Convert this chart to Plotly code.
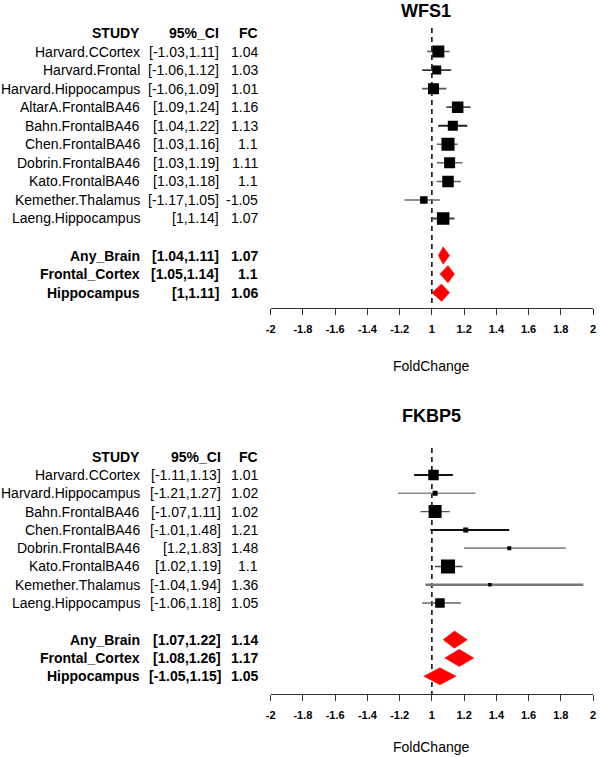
import plotly.graph_objects as go

W, H = 600, 757

# ---------------- data ----------------
wfs1_studies = ["Harvard.CCortex", "Harvard.Frontal", "Harvard.Hippocampus", "AltarA.FrontalBA46",
                "Bahn.FrontalBA46", "Chen.FrontalBA46", "Dobrin.FrontalBA46", "Kato.FrontalBA46",
                "Kemether.Thalamus", "Laeng.Hippocampus"]
wfs1_lo = [-1.03, -1.06, -1.06, 1.09, 1.04, 1.03, 1.03, 1.03, -1.17, 1]
wfs1_hi = [1.11, 1.12, 1.09, 1.24, 1.22, 1.16, 1.19, 1.18, 1.05, 1.14]
wfs1_fc = [1.04, 1.03, 1.01, 1.16, 1.13, 1.1, 1.11, 1.1, -1.05, 1.07]
wfs1_weight = [12, 9, 11, 11.5, 10, 13, 11, 11.5, 7.5, 12.5]
wfs1_sum_names = ["Any_Brain", "Frontal_Cortex", "Hippocampus"]
wfs1_sum_lo = [1.04, 1.05, 1]
wfs1_sum_hi = [1.11, 1.14, 1.11]
wfs1_sum_fc = [1.07, 1.1, 1.06]

fkbp5_studies = ["Harvard.CCortex", "Harvard.Hippocampus", "Bahn.FrontalBA46", "Chen.FrontalBA46",
                 "Dobrin.FrontalBA46", "Kato.FrontalBA46", "Kemether.Thalamus", "Laeng.Hippocampus"]
fkbp5_lo = [-1.11, -1.21, -1.07, -1.01, 1.2, 1.02, -1.04, -1.06]
fkbp5_hi = [1.13, 1.27, 1.11, 1.48, 1.83, 1.19, 1.94, 1.18]
fkbp5_fc = [1.01, 1.02, 1.02, 1.21, 1.48, 1.1, 1.36, 1.05]
fkbp5_weight = [10.5, 5, 13, 5, 4, 14, 3.5, 9.5]
fkbp5_sum_names = ["Any_Brain", "Frontal_Cortex", "Hippocampus"]
fkbp5_sum_lo = [1.07, 1.08, -1.05]
fkbp5_sum_hi = [1.22, 1.26, 1.15]
fkbp5_sum_fc = [1.14, 1.17, 1.05]

tick_fc = [-2, -1.8, -1.6, -1.4, -1.2, 1, 1.2, 1.4, 1.6, 1.8, 2]

# ---------------- styles ----------------
FONT = "Liberation Sans, Arial, Helvetica, sans-serif"
wfs1_line_col = ["#555", "#333", "#555", "#444", "#222", "#666", "#666", "#666", "#666", "#444"]
wfs1_line_w = [1.6, 1.8, 1.6, 1.8, 2.0, 1.5, 1.5, 1.5, 1.6, 1.8]
fkbp5_line_col = ["#111", "#888", "#555", "#111", "#888", "#444", "#777", "#666"]
fkbp5_line_w = [2.0, 1.4, 1.4, 2.0, 1.6, 1.5, 2.3, 1.4]


def pos(v):
    """signed fold change -> linear axis position (1 -> 0, 2 -> 1, -2 -> -1)"""
    return v - 1 if v > 0 else v + 1


def fmt(v):
    return f"{v:g}"


X_DOM = [269.3 / W, 596.0 / W]

panels = [
    dict(title="WFS1", title_px=(427, 11), xa="x", ya="y", studies=wfs1_studies, lo=wfs1_lo,
         hi=wfs1_hi, fc=wfs1_fc, wt=wfs1_weight, sn=wfs1_sum_names, slo=wfs1_sum_lo,
         shi=wfs1_sum_hi, sfc=wfs1_sum_fc, lc=wfs1_line_col, lw=wfs1_line_w,
         dom_px=(28, 307.5), rng=(14.8, -0.27), ci_right=218.5, fold_px=366),
    dict(title="FKBP5", title_px=(432, 416), xa="x2", ya="y2", studies=fkbp5_studies, lo=fkbp5_lo,
         hi=fkbp5_hi, fc=fkbp5_fc, wt=fkbp5_weight, sn=fkbp5_sum_names, slo=fkbp5_sum_lo,
         shi=fkbp5_sum_hi, sfc=fkbp5_sum_fc, lc=fkbp5_line_col, lw=fkbp5_line_w,
         dom_px=(448, 694), rng=(12.97, -0.475), ci_right=221, fold_px=747),
]

fig = go.Figure()
annotations = []


def txt(text, x_px, y, yref, bold=False, size=14, anchor="right"):
    annotations.append(dict(
        text=text, x=x_px / W, xref="paper", y=y, yref=yref, xanchor=anchor, yanchor="middle",
        showarrow=False, font=dict(family=FONT, size=size, color="black",
                                   weight="bold" if bold else "normal")))


for p in panels:
    xa, ya = p["xa"], p["ya"]
    n = len(p["studies"])
    rows = list(range(1, n + 1))
    srows = [n + 2 + i for i in range(len(p["sn"]))]

    # reference line at FC = 1
    fig.add_trace(go.Scatter(x=[0, 0], y=[p["rng"][1], p["rng"][0]], mode="lines",
                             line=dict(color="black", width=1.5, dash="5px,4px"),
                             xaxis=xa, yaxis=ya, hoverinfo="skip"))
    # CI lines
    for i in range(n):
        fig.add_trace(go.Scatter(x=[pos(p["lo"][i]), pos(p["hi"][i])], y=[rows[i], rows[i]],
                                 mode="lines", line=dict(color=p["lc"][i], width=p["lw"][i]),
                                 xaxis=xa, yaxis=ya, hoverinfo="skip"))
    # boxes
    fig.add_trace(go.Scatter(x=[pos(v) for v in p["fc"]], y=rows, mode="markers",
                             marker=dict(symbol="square", size=p["wt"], color="black",
                                         opacity=1, line=dict(width=0)),
                             xaxis=xa, yaxis=ya, text=p["studies"]))
    # summary diamonds
    hh = 0.47
    for i, r in enumerate(srows):
        lo, fc, hi = pos(p["slo"][i]), pos(p["sfc"][i]), pos(p["shi"][i])
        fig.add_trace(go.Scatter(x=[lo, fc, hi, fc, lo], y=[r, r - hh, r, r + hh, r],
                                 mode="lines", fill="toself", fillcolor="#ff0000",
                                 line=dict(color="#ff0000", width=0.5),
                                 xaxis=xa, yaxis=ya, text=p["sn"][i]))

    # text table
    txt("STUDY", 138.5, 0, ya, bold=True)
    txt("95%_CI", p["ci_right"], 0, ya, bold=True)
    txt("FC", 258, 0, ya, bold=True)
    for i in range(n):
        txt(p["studies"][i], 138.5, rows[i], ya)
        txt(f"[{fmt(p['lo'][i])},{fmt(p['hi'][i])}]", p["ci_right"], rows[i], ya)
        txt(fmt(p["fc"][i]), 258, rows[i], ya)
    for i, r in enumerate(srows):
        txt(p["sn"][i], 138.5, r, ya, bold=True)
        txt(f"[{fmt(p['slo'][i])},{fmt(p['shi'][i])}]", p["ci_right"], r, ya, bold=True)
        txt(fmt(p["sfc"][i]), 258, r, ya, bold=True)

    # title + axis label
    annotations.append(dict(text=p["title"], x=p["title_px"][0] / W, xref="paper",
                            y=1 - p["title_px"][1] / H, yref="paper", xanchor="center",
                            yanchor="middle", showarrow=False,
                            font=dict(family=FONT, size=18, color="black", weight="bold")))
    annotations.append(dict(text="FoldChange", x=432 / W, xref="paper",
                            y=1 - p["fold_px"] / H, yref="paper", xanchor="center",
                            yanchor="middle", showarrow=False,
                            font=dict(family=FONT, size=14, color="black")))

xaxis_common = dict(range=[-1, 1], domain=X_DOM, tickvals=[pos(t) for t in tick_fc],
                    ticktext=[fmt(t) for t in tick_fc], ticks="outside", ticklen=6,
                    tickwidth=1, tickcolor="#333", showline=True, linecolor="#333",
                    linewidth=1, showgrid=False, zeroline=False, ticklabelstandoff=5,
                    tickfont=dict(family=FONT, size=11, color="black", weight="bold"))

p0, p1 = panels
fig.update_layout(
    width=W, height=H, margin=dict(l=0, r=0, t=0, b=0),
    paper_bgcolor="white", plot_bgcolor="white", showlegend=False,
    xaxis=dict(anchor="y", **xaxis_common),
    yaxis=dict(domain=[1 - p0["dom_px"][1] / H, 1 - p0["dom_px"][0] / H], range=list(p0["rng"]),
               visible=False, anchor="x"),
    xaxis2=dict(anchor="y2", **xaxis_common),
    yaxis2=dict(domain=[1 - p1["dom_px"][1] / H, 1 - p1["dom_px"][0] / H], range=list(p1["rng"]),
                visible=False, anchor="x2"),
    annotations=annotations,
)

fig.write_html("out.html", config={"displayModeBar": False},
               post_script="document.body.style.margin='0';document.body.style.overflow='hidden';")
